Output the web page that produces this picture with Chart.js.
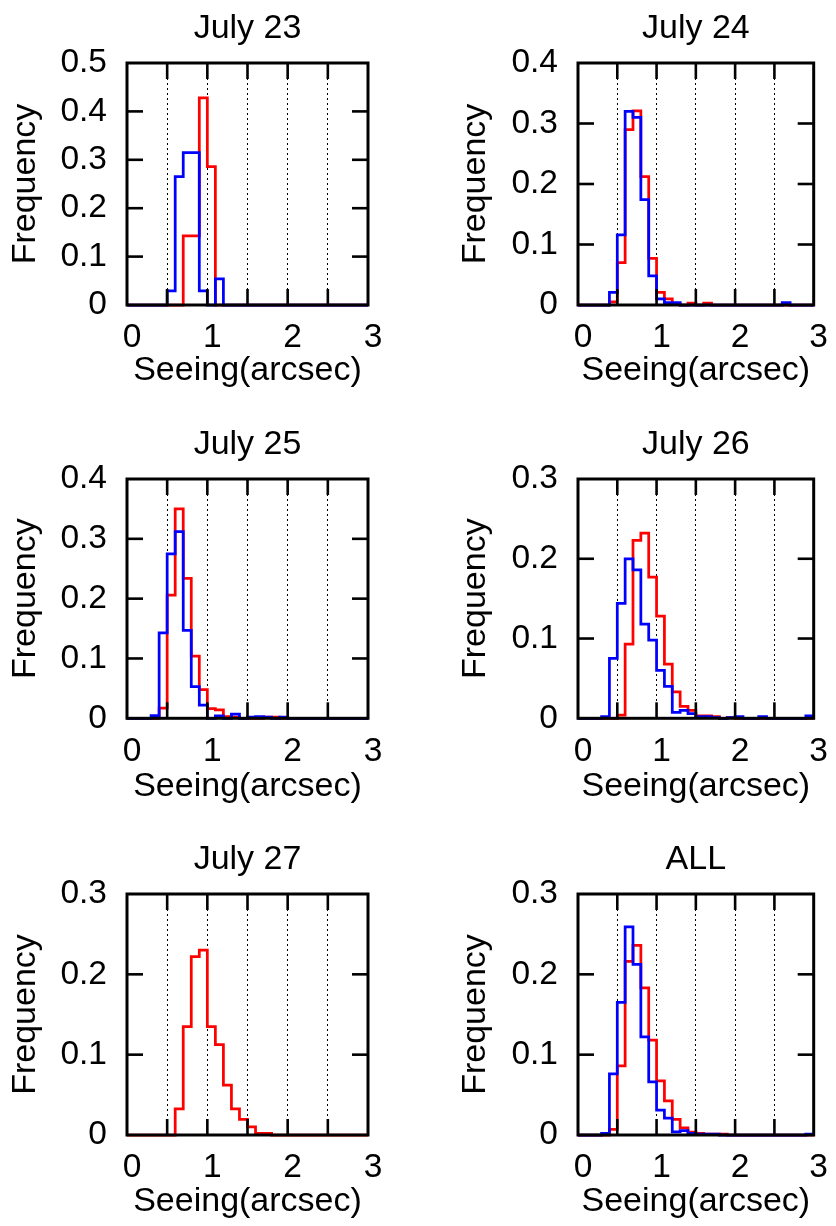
<!DOCTYPE html>
<html><head><meta charset="utf-8">
<script src="https://cdn.jsdelivr.net/npm/chart.js@4.4.1/dist/chart.umd.min.js"></script>
<style>
html,body{margin:0;padding:0;background:#fff;overflow:hidden;width:836px;height:1226px;}
canvas{position:absolute;}
</style></head><body>
<canvas id="c0"></canvas><canvas id="c1"></canvas><canvas id="c2"></canvas>
<canvas id="c3"></canvas><canvas id="c4"></canvas><canvas id="c5"></canvas>
<script>
// ---- data ----
const seeingBins = [0.0,0.1,0.2,0.3,0.4,0.5,0.6,0.7,0.8,0.9,1.0,1.1,1.2,1.3,1.4,1.5,1.6,1.7,1.8,1.9,2.0,2.1,2.2,2.3,2.4,2.5,2.6,2.7,2.8,2.9];
const binEnd = 3.0;
const xTickValues = [0,0.5,1,1.5,2,2.5,3];
const panelTitles = ['July 23','July 24','July 25','July 26','July 27','ALL'];
const yMaxima = [0.5,0.4,0.4,0.3,0.3,0.3];
const yTickStep = 0.1;
const xAxisTitle = 'Seeing(arcsec)';
const yAxisTitle = 'Frequency';

const july23Red  = [0,0,0,0,0,0,0,0.143,0.143,0.428,0.286,0,0,0,0,0,0,0,0,0,0,0,0,0,0,0,0,0,0,0];
const july23Blue = [0,0,0,0,0,0.029,0.265,0.315,0.315,0.029,0,0.054,0,0,0,0,0,0,0,0,0,0,0,0,0,0,0,0,0,0];
const july24Red  = [0,0,0,0,0.005,0.070,0.290,0.321,0.212,0.077,0.021,0.010,0.002,0,0.003,0,0.003,0,0,0,0,0,0,0,0,0,0,0,0,0];
const july24Blue = [0,0,0,0,0.021,0.116,0.320,0.310,0.174,0.048,0.010,0.004,0.004,0,0,0,0,0,0,0,0,0,0,0,0,0,0.004,0,0,0];
const july25Red  = [0,0,0,0,0.017,0.206,0.350,0.234,0.104,0.048,0.016,0.014,0.003,0.002,0,0,0,0.002,0.002,0,0,0,0,0,0,0,0,0,0,0];
const july25Blue = [0,0,0,0.0045,0.143,0.275,0.312,0.147,0.053,0.022,0,0.004,0,0.007,0,0.002,0.003,0.002,0,0.002,0,0,0,0,0,0,0,0,0,0];
const july26Red  = [0,0,0,0,0,0.004,0.093,0.223,0.232,0.177,0.128,0.068,0.033,0.015,0.010,0.003,0.003,0.002,0,0.001,0,0,0,0,0,0,0,0,0,0];
const july26Blue = [0,0,0,0.002,0.075,0.144,0.200,0.186,0.118,0.098,0.060,0.040,0.0075,0.010,0.006,0.002,0.002,0.001,0,0.001,0.002,0,0,0.002,0,0,0,0,0,0.003];
const july27Red  = [0,0,0,0,0,0,0.0325,0.135,0.222,0.230,0.135,0.1125,0.062,0.0325,0.0196,0.010,0.002,0.002,0,0,0,0,0,0,0,0,0,0,0,0];
const allRed     = [0,0,0,0,0.007,0.086,0.216,0.236,0.183,0.118,0.0675,0.0425,0.0196,0.009,0.0035,0.002,0.001,0.001,0.001,0,0,0,0,0,0,0,0,0,0,0];
const allBlue    = [0,0,0,0.002,0.076,0.165,0.259,0.2125,0.122,0.066,0.031,0.021,0.004,0.0055,0.002,0.001,0.001,0.001,0,0,0,0,0,0,0,0,0,0,0,0.001];

const panelSeries = [
  {red: july23Red, blue: july23Blue},
  {red: july24Red, blue: july24Blue},
  {red: july25Red, blue: july25Blue},
  {red: july26Red, blue: july26Blue},
  {red: july27Red, blue: null},
  {red: allRed,    blue: allBlue}
];

const FONT = '"Liberation Sans", Arial, Helvetica, sans-serif';
Chart.defaults.font.family = FONT;
Chart.defaults.color = '#000';

const layoutSpec = [
  {left:0,   top:0,   w:418, h:395, yw:127, pr:50, pb:305},
  {left:450, top:0,   w:386, h:395, yw:128, pr:16, pb:305},
  {left:0,   top:416, w:418, h:395, yw:127, pr:50, pb:302.3},
  {left:450, top:416, w:386, h:395, yw:128, pr:16, pb:302.3},
  {left:0,   top:831, w:418, h:395, yw:127, pr:50, pb:304},
  {left:450, top:831, w:386, h:395, yw:128, pr:16, pb:304}
];

function toSteps(vals){
  const pts = seeingBins.map((x,i)=>({x:x, y:vals[i]}));
  pts.push({x:binEnd, y:vals[vals.length-1]});
  return pts;
}

const framePlugin = {
  id:'gnuFrame',
  afterDraw(chart){
    const ctx = chart.ctx, a = chart.chartArea;
    const xs = chart.scales.x, ys = chart.scales.y;
    const TL = 16;
    ctx.save();
    ctx.setLineDash([]);
    ctx.strokeStyle = '#000000';
    ctx.lineWidth = 3;
    ctx.strokeRect(a.left, a.top, a.right-a.left, a.bottom-a.top);
    ctx.lineWidth = 2.6;
    const inner = xTickValues.slice(1, -1);
    for (const v of inner){
      const px = xs.getPixelForValue(v);
      ctx.beginPath(); ctx.moveTo(px, a.bottom); ctx.lineTo(px, a.bottom-TL); ctx.stroke();
      ctx.beginPath(); ctx.moveTo(px, a.top); ctx.lineTo(px, a.top+TL); ctx.stroke();
    }
    const n = Math.round(ys.max / yTickStep);
    for (let k = 1; k < n; k++){
      const py = ys.getPixelForValue(k * yTickStep);
      ctx.beginPath(); ctx.moveTo(a.left, py); ctx.lineTo(a.left+TL, py); ctx.stroke();
      ctx.beginPath(); ctx.moveTo(a.right, py); ctx.lineTo(a.right-TL, py); ctx.stroke();
    }
    ctx.restore();
  }
};

panelTitles.forEach((title, i)=>{
  const L = layoutSpec[i];
  const cv = document.getElementById('c'+i);
  cv.width = L.w; cv.height = L.h;
  cv.style.left = L.left+'px'; cv.style.top = L.top+'px';
  cv.style.width = L.w+'px'; cv.style.height = L.h+'px';

  const ser = panelSeries[i];
  const datasets = [];
  if (ser.blue) datasets.push({label:'blue', data:toSteps(ser.blue), borderColor:'#0000ff', borderWidth:2.75, stepped:true, pointRadius:0, fill:false, clip:4});
  datasets.push({label:'red', data:toSteps(ser.red), borderColor:'#ff0000', borderWidth:2.75, stepped:true, pointRadius:0, fill:false, clip:4});

  new Chart(cv, {
    type:'line',
    data:{datasets},
    options:{
      responsive:false, maintainAspectRatio:false, animation:false, devicePixelRatio:1,
      layout:{padding:{left:0, right:L.pr, top:0, bottom:0}},
      plugins:{
        legend:{display:false}, tooltip:{enabled:false},
        title:{display:true, text:title, fullSize:false, color:'#000',
               font:{size:34, weight:'normal', family:FONT}, padding:{top:8.5, bottom:13.7}}
      },
      scales:{
        x:{type:'linear', min:0, max:3,
           afterFit(s){ s.height = L.h - L.pb; },
           ticks:{stepSize:0.5, autoSkip:false, maxRotation:0, padding:13, labelOffset:5,
                  font:{size:33.5, family:FONT}, color:'#000',
                  callback:(v)=> (Math.abs(v-Math.round(v))<1e-6 ? String(Math.round(v)) : '')},
           grid:{drawTicks:false, lineWidth:1,
                 color:(c)=> (c.tick && c.tick.value>0.01 && c.tick.value<2.99) ? '#000' : 'rgba(0,0,0,0)'},
           border:{display:false, dash:[2,3]},
           title:{display:true, text:xAxisTitle, color:'#000', font:{size:34, family:FONT}, padding:{top:0, bottom:3.5}}
        },
        y:{type:'linear', min:0, max:yMaxima[i],
           afterFit(s){ s.width = L.yw; },
           ticks:{stepSize:yTickStep, padding:20, font:{size:33.5, family:FONT}, color:'#000'},
           grid:{display:false, drawTicks:false},
           border:{display:false},
           title:{display:true, text:yAxisTitle, color:'#000', font:{size:34, family:FONT}, padding:{top:5, bottom:0}}
        }
      }
    },
    plugins:[framePlugin]
  });
});
</script>
</body></html>
